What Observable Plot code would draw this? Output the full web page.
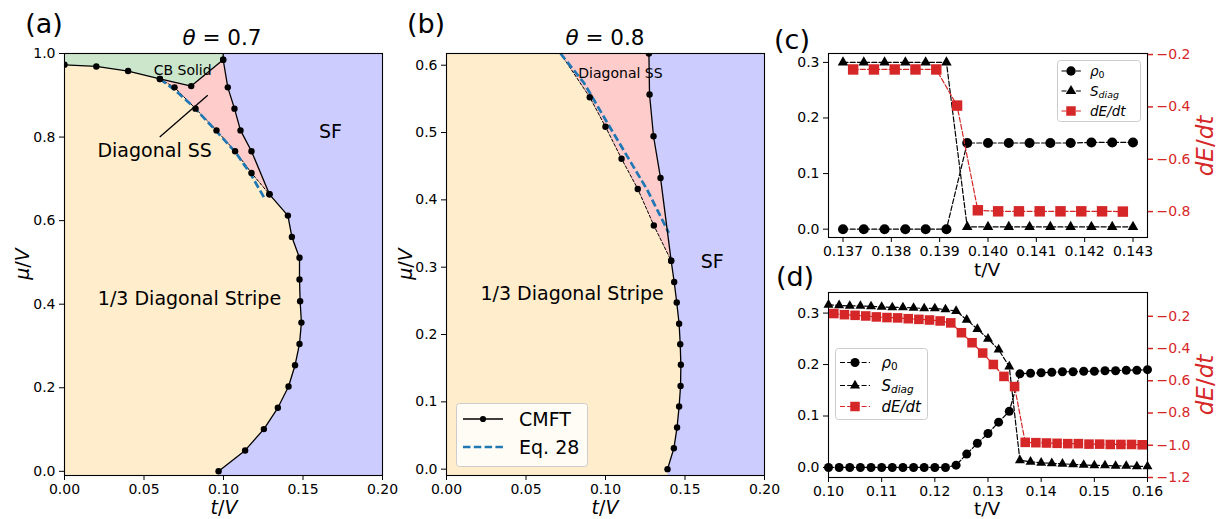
<!DOCTYPE html>
<html><head><meta charset="utf-8">
<script src="https://cdn.jsdelivr.net/npm/d3@7"></script>
<script src="https://cdn.jsdelivr.net/npm/@observablehq/plot@0.6"></script>
<style>
body{margin:0;background:#fff;}
#root{position:relative;width:1222px;height:519px;overflow:hidden;font-family:"DejaVu Sans";color:#000;}
.abs{position:absolute;}
.lbl{position:absolute;transform:translate(-50%,-50%);white-space:nowrap;line-height:1;}
.rot{transform:translate(-50%,-50%) rotate(-90deg);}
</style></head><body><div id="root"></div>
<script>
// ---------------- DATA ----------------
// Panel (a) theta = 0.7
const tTicksAB = [0, 0.05, 0.10, 0.15, 0.20];
const muTicksA = [0, 0.2, 0.4, 0.6, 0.8, 1.0];
const cbT_a  = [0, 0.02, 0.04, 0.06, 0.0797, 0.0998];
const cbMu_a = [0.973, 0.969, 0.958, 0.939, 0.922, 0.985];
const sfT_a  = [0.0998, 0.1027, 0.1069, 0.1107, 0.1176, 0.1289, 0.1405, 0.143, 0.1478, 0.1478, 0.1482, 0.149, 0.1478, 0.145, 0.1409, 0.1342, 0.1254, 0.1136, 0.0969];
const sfMu_a = [0.985, 0.919, 0.868, 0.816, 0.766, 0.663, 0.612, 0.561, 0.511, 0.459, 0.407, 0.356, 0.305, 0.254, 0.203, 0.152, 0.101, 0.050, 0.0];
const dssT_a  = [0.06, 0.0692, 0.0824, 0.0956, 0.1073, 0.1176, 0.1289];
const dssMu_a = [0.939, 0.919, 0.868, 0.816, 0.766, 0.714, 0.663];
const eqT_a  = [0.060, 0.0695, 0.0813, 0.096, 0.1075, 0.117, 0.1254];
const eqMu_a = [0.939, 0.912, 0.872, 0.812, 0.764, 0.712, 0.656];

// Panel (b) theta = 0.8
const muTicksB = [0, 0.1, 0.2, 0.3, 0.4, 0.5, 0.6];
const sfT_b  = [0.1273, 0.1277, 0.1302, 0.1346, 0.1413, 0.1432, 0.1448, 0.1463, 0.147, 0.1474, 0.1472, 0.1463, 0.145, 0.143, 0.139];
const sfMu_b = [0.6174, 0.5565, 0.4945, 0.4326, 0.3095, 0.278, 0.2475, 0.216, 0.1855, 0.155, 0.1235, 0.093, 0.062, 0.031, 0.0];
const dssT_b  = [0.0717, 0.0901, 0.1, 0.1101, 0.1203, 0.1304, 0.1413];
const dssMu_b = [0.6174, 0.5525, 0.5085, 0.461, 0.4162, 0.362, 0.3095];
const eqT_b  = [0.0717, 0.0864, 0.1, 0.1136, 0.1262, 0.1398];
const eqMu_b = [0.6174, 0.574, 0.519, 0.465, 0.415, 0.351];

// Panel (c)
const tC = [0.137, 0.13743, 0.13786, 0.13829, 0.13871, 0.13914, 0.13957, 0.14, 0.14043, 0.14086, 0.14129, 0.14171, 0.14214, 0.14257, 0.143];
const rhoC   = [0, 0, 0, 0, 0, 0, 0.155, 0.155, 0.155, 0.155, 0.155, 0.155, 0.156, 0.156, 0.156];
const sdiagC = [0.3, 0.3, 0.3, 0.3, 0.3, 0.3, 0.004, 0.004, 0.004, 0.004, 0.004, 0.004, 0.004, 0.004, 0.004];
const tMidC = [0.13721, 0.13764, 0.13807, 0.1385, 0.13893, 0.13936, 0.13979, 0.14021, 0.14064, 0.14107, 0.1415, 0.14193, 0.14236, 0.14279];
const dEdtC = [-0.257, -0.257, -0.257, -0.257, -0.257, -0.395, -0.795, -0.799, -0.799, -0.799, -0.799, -0.799, -0.799, -0.800];
const xTicksC = [0.137, 0.138, 0.139, 0.140, 0.141, 0.142, 0.143];
const leftTicksCD = [0, 0.1, 0.2, 0.3];
const rightTicksC = [-0.2, -0.4, -0.6, -0.8];

// Panel (d)
const tD = [0.100, 0.102, 0.104, 0.106, 0.108, 0.110, 0.112, 0.114, 0.116, 0.118, 0.120, 0.122, 0.124, 0.126, 0.128, 0.130, 0.132, 0.134, 0.136, 0.138, 0.140, 0.142, 0.144, 0.146, 0.148, 0.150, 0.152, 0.154, 0.156, 0.158, 0.160];
const rhoD = [0, 0, 0, 0, 0, 0, 0, 0, 0, 0, 0, 0, 0.0045, 0.026, 0.047, 0.066, 0.088, 0.109, 0.182, 0.183, 0.184, 0.185, 0.186, 0.186, 0.187, 0.187, 0.188, 0.188, 0.189, 0.189, 0.190];
const sdiagD = [0.316, 0.315, 0.314, 0.314, 0.313, 0.312, 0.311, 0.311, 0.310, 0.309, 0.309, 0.307, 0.304, 0.287, 0.269, 0.250, 0.229, 0.196, 0.014, 0.011, 0.009, 0.008, 0.007, 0.006, 0.005, 0.004, 0.004, 0.003, 0.003, 0.002, 0.002];
const tMidD = [0.101, 0.103, 0.105, 0.107, 0.109, 0.111, 0.113, 0.115, 0.117, 0.119, 0.121, 0.123, 0.125, 0.127, 0.129, 0.131, 0.133, 0.135, 0.137, 0.139, 0.141, 0.143, 0.145, 0.147, 0.149, 0.151, 0.153, 0.155, 0.157, 0.159];
const dEdtD = [-0.183, -0.190, -0.194, -0.198, -0.204, -0.208, -0.210, -0.215, -0.219, -0.223, -0.229, -0.241, -0.302, -0.364, -0.428, -0.499, -0.573, -0.636, -0.982, -0.984, -0.986, -0.988, -0.990, -0.990, -0.993, -0.993, -0.995, -0.995, -0.995, -0.997];
const xTicksD = [0.10, 0.11, 0.12, 0.13, 0.14, 0.15, 0.16];
const rightTicksD = [-0.2, -0.4, -0.6, -0.8, -1.0, -1.2];

// annotations
const annA = {
  small: [{t: 0.0743, mu: 0.959, s: "CB Solid"}],
  big: [{t: 0.0567, mu: 0.766, s: "Diagonal SS"}, {t: 0.1673, mu: 0.812, s: "SF"}, {t: 0.0786, mu: 0.413, s: "1/3 Diagonal Stripe"}],
  arrow: [{t1: 0.0599, mu1: 0.80, t2: 0.0901, mu2: 0.90}]
};
const annB = {
  small: [{t: 0.1094, mu: 0.588, s: "Diagonal SS"}],
  big: [{t: 0.1671, mu: 0.3085, s: "SF"}, {t: 0.079, mu: 0.26, s: "1/3 Diagonal Stripe"}]
};

// ---------------- STYLE ----------------
const YELLOW = "#ffedcc", BLUE = "#ccccff", PINK = "#ffcccc", GREEN = "#cce6cc";
const EQBLUE = "#1f77b4", RED = "#d62728";
const STYLE = {background: "transparent", fontFamily: "DejaVu Sans", fontSize: "14px", color: "black", overflow: "visible"};
const root = document.getElementById("root");
const pts = (ts, ms) => ts.map((t, i) => ({t, mu: ms[i]}));

function place(el, left, top) {
  const d = document.createElement("div");
  d.className = "abs"; d.style.left = left + "px"; d.style.top = top + "px";
  d.appendChild(el); root.appendChild(d);
}
function label(html, x, y, size, extra) {
  const d = document.createElement("div");
  d.className = "lbl" + (extra && extra.rot ? " rot" : "");
  d.style.left = x + "px"; d.style.top = y + "px"; d.style.fontSize = size + "px";
  if (extra && extra.color) d.style.color = extra.color;
  d.innerHTML = html; root.appendChild(d);
}
const axX = (ticks, fmt) => Plot.axisX({ticks, tickFormat: d3.format(fmt), tickSize: 5, tickPadding: 4, label: null});
const axY = (ticks, fmt) => Plot.axisY({ticks, tickFormat: d3.format(fmt), tickSize: 5, tickPadding: 4, label: null});

// ---------------- PANEL (a) ----------------
{
  const xd = [0, 0.2], yd = [-0.01, 1.0];
  const sf = pts(sfT_a, sfMu_a), cb = pts(cbT_a, cbMu_a), dss = pts(dssT_a, dssMu_a), eq = pts(eqT_a, eqMu_a);
  const sfLine = [{t: sfT_a[0], mu: yd[1]}, ...sf];
  const sfPoly = [...sfLine, {t: sfT_a[sfT_a.length - 1], mu: yd[0]}, {t: xd[1], mu: yd[0]}, {t: xd[1], mu: yd[1]}];
  const greenPoly = [{t: xd[0], mu: yd[1]}, ...cb, {t: cbT_a[cbT_a.length - 1], mu: yd[1]}];
  const redPoly = [...sf.slice(0, 6), ...dss.slice().reverse().slice(1), ...cb.slice(4)];
  const p = Plot.plot({
    width: 400, height: 519, marginLeft: 64, marginRight: 18, marginTop: 53, marginBottom: 44,
    x: {domain: xd}, y: {domain: yd}, style: STYLE,
    marks: [
      Plot.frame({fill: YELLOW, stroke: "none"}),
      Plot.line(sfPoly, {x: "t", y: "mu", fill: BLUE, stroke: "none", clip: true}),
      Plot.line(redPoly, {x: "t", y: "mu", fill: PINK, stroke: "none", clip: true}),
      Plot.line(greenPoly, {x: "t", y: "mu", fill: GREEN, stroke: "none", clip: true}),
      Plot.line(dss, {x: "t", y: "mu", stroke: "black", strokeWidth: 1, strokeDasharray: "3,2"}),
      Plot.line(eq, {x: "t", y: "mu", stroke: EQBLUE, strokeWidth: 2.7, strokeDasharray: "7.5,3.3", strokeLinecap: "butt"}),
      Plot.line(cb, {x: "t", y: "mu", stroke: "black", strokeWidth: 1.3}),
      Plot.line(sfLine, {x: "t", y: "mu", stroke: "black", strokeWidth: 1.3, clip: true}),
      Plot.dot([...cb, ...sf, ...dss], {x: "t", y: "mu", r: 3.2, fill: "black", clip: true}),
      Plot.link(annA.arrow, {x1: "t1", y1: "mu1", x2: "t2", y2: "mu2", stroke: "black", strokeWidth: 1.3}),
      Plot.text(annA.small, {x: "t", y: "mu", text: "s", fontSize: 14, fill: "black"}),
      Plot.text(annA.big, {x: "t", y: "mu", text: "s", fontSize: 19, fill: "black"}),
      Plot.frame({stroke: "black", strokeWidth: 1.1}),
      axX(tTicksAB, ".2f"), axY(muTicksA, ".1f")
    ]
  });
  place(p, 0, 0);
}

// ---------------- PANEL (b) ----------------
{
  const xd = [0, 0.2], yd = [-0.0094, 0.6174];
  const sf = pts(sfT_b, sfMu_b), dss = pts(dssT_b, dssMu_b), eq = pts(eqT_b, eqMu_b);
  const sfPoly = [...sf, {t: sfT_b[sfT_b.length - 1], mu: yd[0]}, {t: xd[1], mu: yd[0]}, {t: xd[1], mu: yd[1]}];
  const redPoly = [...dss, ...sf.slice(0, 5).reverse()];
  const p = Plot.plot({
    width: 380, height: 519, marginLeft: 46, marginRight: 16, marginTop: 53, marginBottom: 44,
    x: {domain: xd}, y: {domain: yd}, style: STYLE,
    marks: [
      Plot.frame({fill: YELLOW, stroke: "none"}),
      Plot.line(sfPoly, {x: "t", y: "mu", fill: BLUE, stroke: "none", clip: true}),
      Plot.line(redPoly, {x: "t", y: "mu", fill: PINK, stroke: "none", clip: true}),
      Plot.line(dss, {x: "t", y: "mu", stroke: "black", strokeWidth: 1, strokeDasharray: "3,2"}),
      Plot.line(eq, {x: "t", y: "mu", stroke: EQBLUE, strokeWidth: 2.7, strokeDasharray: "7.5,3.3", strokeLinecap: "butt"}),
      Plot.line(sf, {x: "t", y: "mu", stroke: "black", strokeWidth: 1.3}),
      Plot.dot([...sf, ...dss.slice(1)], {x: "t", y: "mu", r: 3.2, fill: "black", clip: true}),
      Plot.text(annB.small, {x: "t", y: "mu", text: "s", fontSize: 14, fill: "black"}),
      Plot.text(annB.big, {x: "t", y: "mu", text: "s", fontSize: 19, fill: "black"}),
      Plot.frame({stroke: "black", strokeWidth: 1.1}),
      axX(tTicksAB, ".2f"), axY(muTicksB, ".1f")
    ]
  });
  place(p, 400, 0);
}

// ---------------- PANELS (c) and (d) ----------------
function twin(cfg) {
  const rho = pts(cfg.t, cfg.rho), sd = pts(cfg.t, cfg.sdiag), de = pts(cfg.tMid, cfg.dEdt);
  const dims = {width: 452, height: cfg.h, marginLeft: 58, marginRight: 75, marginTop: cfg.mt, marginBottom: cfg.mb};
  const left = Plot.plot({
    ...dims, x: {domain: cfg.xd}, y: {domain: cfg.yl}, style: STYLE,
    marks: [
      Plot.line(rho, {x: "t", y: "mu", stroke: "black", strokeWidth: 1.2, strokeDasharray: "5,2.2"}),
      Plot.dot(rho, {x: "t", y: "mu", r: cfg.rc, symbol: "circle", fill: "black"}),
      Plot.line(sd, {x: "t", y: "mu", stroke: "black", strokeWidth: 1.2, strokeDasharray: "5,2.2"}),
      Plot.dot(sd, {x: "t", y: "mu", r: cfg.rt, symbol: "triangle", fill: "black"}),
      Plot.frame({stroke: "black", strokeWidth: 1.1}),
      axX(cfg.xt, cfg.xf), axY(leftTicksCD, ".1f")
    ]
  });
  const right = Plot.plot({
    ...dims, x: {domain: cfg.xd, axis: null}, y: {domain: cfg.yr}, style: STYLE,
    marks: [
      Plot.line(de, {x: "t", y: "mu", stroke: RED, strokeWidth: 1.2, strokeDasharray: "5,2.2"}),
      Plot.dot(de, {x: "t", y: "mu", r: cfg.rs, symbol: "square", fill: RED}),
      Plot.axisY({anchor: "right", ticks: cfg.rt2, tickFormat: d3.format(".1f"), tickSize: 5, tickPadding: 4, label: null, stroke: RED, fill: RED, strokeWidth: 1.5})
    ]
  });
  place(left, 770, cfg.top);
  place(right, 770, cfg.top);
}
twin({t: tC, rho: rhoC, sdiag: sdiagC, tMid: tMidC, dEdt: dEdtC, h: 280, mt: 53, mb: 43, top: 0,
  xd: [0.1367, 0.1433], yl: [-0.015, 0.316], yr: [-0.899, -0.196], xt: xTicksC, xf: ".3f", rt2: rightTicksC,
  rc: 5, rt: 3.9, rs: 5.9});
twin({t: tD, rho: rhoD, sdiag: sdiagD, tMid: tMidD, dEdt: dEdtD, h: 249, mt: 22, mb: 42, top: 270,
  xd: [0.10, 0.16], yl: [-0.0195, 0.34], yr: [-1.2, -0.0525], xt: xTicksD, xf: ".2f", rt2: rightTicksD,
  rc: 4.5, rt: 3.7, rs: 5.4});

// ---------------- LEGENDS ----------------
function legend(left, top, w, h, fs, rows, x1, x2, xm, xt) {
  const svg = d3.create("svg").attr("width", w + 2).attr("height", h + 2)
    .style("font-family", "DejaVu Sans").style("font-size", fs + "px").style("overflow", "visible");
  svg.append("rect").attr("x", 0.5).attr("y", 0.5).attr("width", w).attr("height", h).attr("rx", 3)
    .attr("fill", "rgba(255,255,255,0.8)").attr("stroke", "#cccccc");
  rows.forEach(r => {
    svg.append("line").attr("x1", x1).attr("x2", x2).attr("y1", r.y).attr("y2", r.y)
      .attr("stroke", r.color).attr("stroke-width", r.lw).attr("stroke-dasharray", r.dash || null);
    if (r.sym) svg.append("path").attr("transform", `translate(${xm},${r.y})`)
      .attr("d", d3.symbol(r.sym, r.size)()).attr("fill", r.color);
    const tx = svg.append("text").attr("x", xt).attr("y", r.y).attr("dy", "0.35em").attr("fill", "black");
    r.parts.forEach(pp => {
      const ts = tx.append("tspan").text(pp.s);
      if (pp.i) ts.attr("font-style", "italic");
      if (pp.sub) ts.attr("font-size", "0.7em").attr("dy", "0.25em");
    });
  });
  place(svg.node(), left, top);
}
legend(456, 403, 131, 63, 19, [
  {y: 16, color: "black", lw: 1.3, sym: d3.symbolCircle, size: 30, parts: [{s: "CMFT"}]},
  {y: 44, color: EQBLUE, lw: 2.7, dash: "7.5,3.3", parts: [{s: "Eq. 28"}]}
], 7, 47, 27, 63);
const rowsCD = (size) => [
  {color: "black", lw: 1.2, dash: "5,2.2", sym: d3.symbolCircle, size: size[0], parts: [{s: "ρ", i: 1}, {s: "0", sub: 1}]},
  {color: "black", lw: 1.2, dash: "5,2.2", sym: d3.symbolTriangle, size: size[1], parts: [{s: "S", i: 1}, {s: "diag", i: 1, sub: 1}]},
  {color: RED, lw: 1.2, dash: "5,2.2", sym: d3.symbolSquare, size: size[2], parts: [{s: "dE/dt", i: 1}]}
];
{
  const rc = rowsCD([70, 48, 90]); [11, 31, 51].forEach((y, i) => rc[i].y = y);
  legend(1057, 60, 83, 61, 13.5, rc, 4.5, 24, 14, 33);
  const rd = rowsCD([64, 44, 90]); [14.5, 37.5, 58.5].forEach((y, i) => rd[i].y = y);
  legend(835, 348, 92, 71, 15, rd, 5, 35, 20, 46.5);
}

// ---------------- TEXT ----------------
label("(a)", 44, 23, 27);
label("(b)", 426, 23, 27);
label("(c)", 792, 39, 27);
label("(d)", 795, 276, 27);
label("<i>θ</i> = 0.7", 222, 38, 21.5);
label("<i>θ</i> = 0.8", 605, 38, 21.5);
label("<i>t</i>/<i>V</i>", 224, 507, 19);
label("<i>t</i>/<i>V</i>", 605, 507, 19);
label("<i>μ</i>/<i>V</i>", 22, 264, 19, {rot: 1});
label("<i>μ</i>/<i>V</i>", 405, 264, 19, {rot: 1});
label("t/V", 987, 270, 18.5);
label("t/V", 987, 509, 18.5);
label("<i>dE</i>/<i>dt</i>", 1205, 146, 23, {rot: 1, color: RED});
label("<i>dE</i>/<i>dt</i>", 1205, 385, 23, {rot: 1, color: RED});
</script></body></html>
